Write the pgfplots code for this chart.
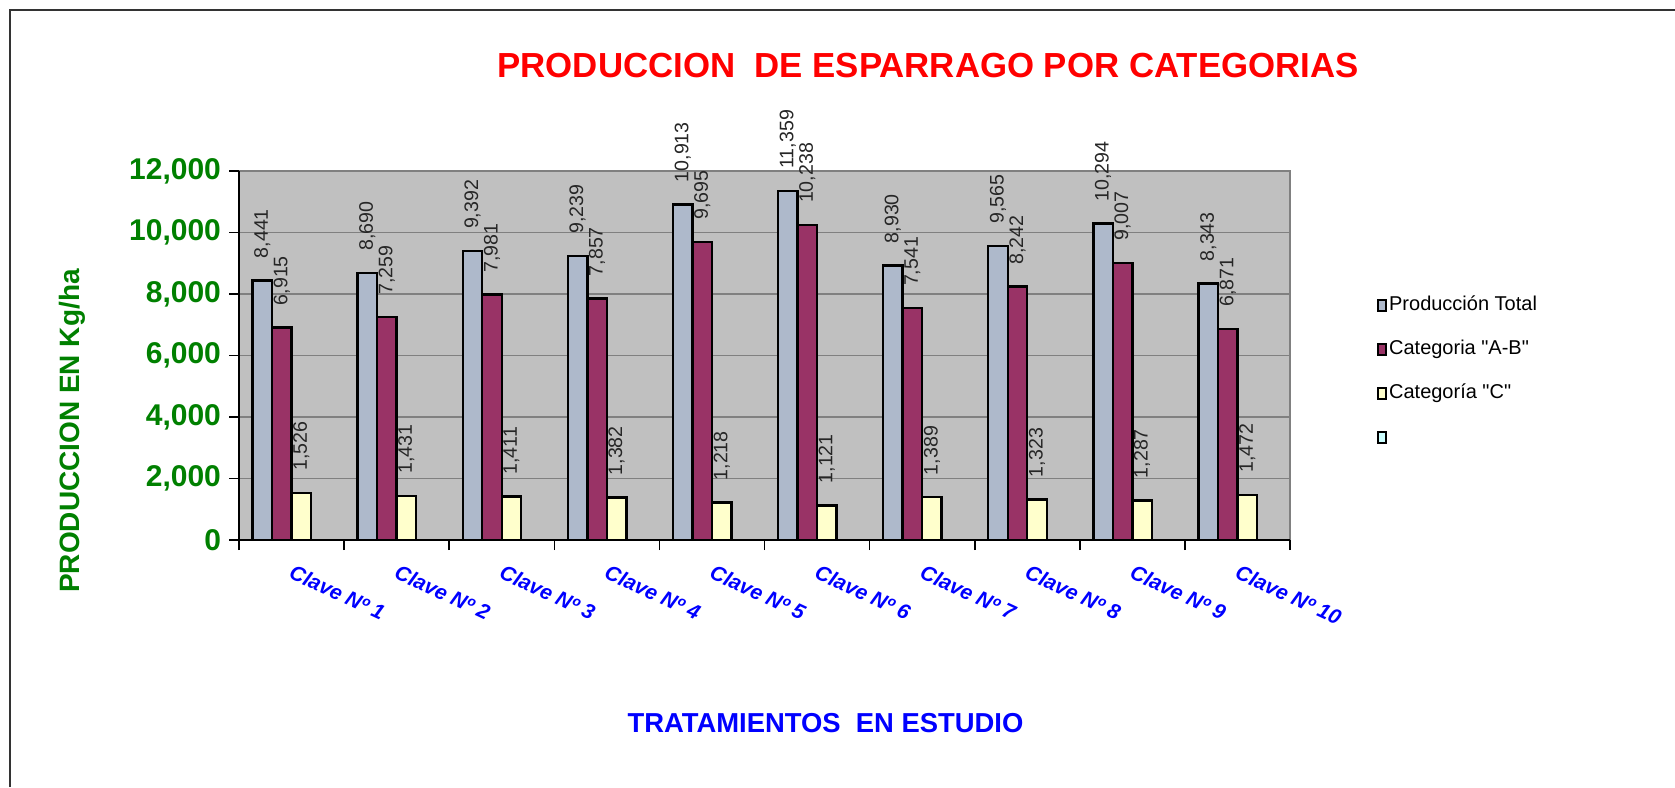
\documentclass[border=0pt]{standalone}
\usepackage{pgfplots}
\usepackage{pgfplotstable}
\pgfplotsset{compat=1.18}
\usepackage{fontspec}
\setmainfont{Liberation Sans}
\newfontfamily\qf{Liberation Sans}
\definecolor{cTot}{RGB}{174,185,203}
\definecolor{cAB}{RGB}{153,51,102}
\definecolor{cC}{RGB}{255,255,204}
\definecolor{cD}{RGB}{204,255,255}
\definecolor{plotbg}{RGB}{192,192,192}
\definecolor{gridc}{RGB}{128,128,128}
\definecolor{xgreen}{RGB}{0,128,0}
\definecolor{xblue}{RGB}{0,0,255}
\definecolor{xred}{RGB}{255,0,0}
\pgfplotstableread{
x tot ab c
1 8441 6915 1526
2 8690 7259 1431
3 9392 7981 1411
4 9239 7857 1382
5 10913 9695 1218
6 11359 10238 1121
7 8930 7541 1389
8 9565 8242 1323
9 10294 9007 1287
10 8343 6871 1472
}\datatable
\pgfplotsset{sqlegend/.style={legend image code/.code={\draw[##1,line width=0.9pt,draw=black] (0pt,-2.6pt) rectangle (4pt,2.6pt);}}}
\begin{document}
\begin{tikzpicture}
\draw[line width=1pt, color=black!80] (5pt,0pt) -- (5pt,388.5pt) -- (837.5pt,388.5pt);
\begin{axis}[
  at={(119.5pt,123.5pt)}, anchor=south west,
  scale only axis, width=525.5pt, height=184.5pt,
  ybar=0pt, bar width=9.75pt,
  xmin=0.5, xmax=10.5, ymin=0, ymax=12000,
  xtick={0.5,1.5,...,10.5},
  x tick label as interval=true,
  xticklabels={Clave Nº 1,Clave Nº 2,Clave Nº 3,Clave Nº 4,Clave Nº 5,Clave Nº 6,Clave Nº 7,Clave Nº 8,Clave Nº 9,Clave Nº 10},
  ytick={0,2000,...,12000},
  scaled y ticks=false,
  /pgf/number format/assume math mode=true,
  /pgf/number format/1000 sep={,},
  tick align=outside,
  major tick length=5pt,
  axis lines*=left,
  axis line style={line width=1pt, black},
  tick style={line width=0.8pt, black},
  axis background/.style={fill=plotbg, draw=gridc, line width=1pt},
  ymajorgrids, grid style={gridc, line width=0.7pt},
  xticklabel style={rotate=-25, anchor=north west, font=\bfseries\itshape\fontsize{10.5}{12}\selectfont, text=xblue, inner sep=0pt, yshift=-5.5pt, xshift=4pt},
  yticklabel style={font=\bfseries\fontsize{15}{17}\selectfont, text=xgreen, xshift=-0.5pt},
  nodes near coords,
  every node near coord/.append style={rotate=90, anchor=west, font=\fontsize{9.8}{11}\selectfont, inner xsep=10.5pt, inner ysep=0pt, text=black!85},
  clip=false,
  legend cell align=left,
  legend style={at={(1.077,0.4566)}, anchor=west, draw=none, fill=none, font=\fontsize{10}{12}\selectfont, row sep=9pt, nodes={text height=7pt, text depth=2pt, inner xsep=1pt}},
]
\addplot[fill=cTot, draw=black, line width=1.2pt, bar shift=-14.625pt, sqlegend] table[x=x, y=tot] {\datatable};
\addlegendentry{Producción Total}
\addplot[fill=cAB, draw=black, line width=1.2pt, bar shift=-4.875pt, sqlegend] table[x=x, y=ab] {\datatable};
\addlegendentry{\qf Categoria "A-B"}
\addplot[fill=cC, draw=black, line width=1.2pt, bar shift=4.875pt, sqlegend] table[x=x, y=c] {\datatable};
\addlegendentry{\qf Categoría "C"}
\addlegendimage{sqlegend, fill=cD, draw=black}
\addlegendentry{\strut}
\end{axis}
\node[text=xred, font=\bfseries\fontsize{17.4}{20}\selectfont] at (464pt,360.5pt) {PRODUCCION\ \ DE ESPARRAGO POR CATEGORIAS};
\node[text=xgreen, font=\bfseries\fontsize{14}{16}\selectfont, rotate=90] at (36pt,178pt) {PRODUCCION EN Kg/ha};
\node[text=xblue, font=\bfseries\fontsize{13.7}{16}\selectfont] at (412.75pt,32pt) {TRATAMIENTOS\ \ EN ESTUDIO};
\pgfresetboundingbox
\path[use as bounding box] (0pt,0pt) rectangle (837.5pt,393.5pt);
\end{tikzpicture}
\end{document}
